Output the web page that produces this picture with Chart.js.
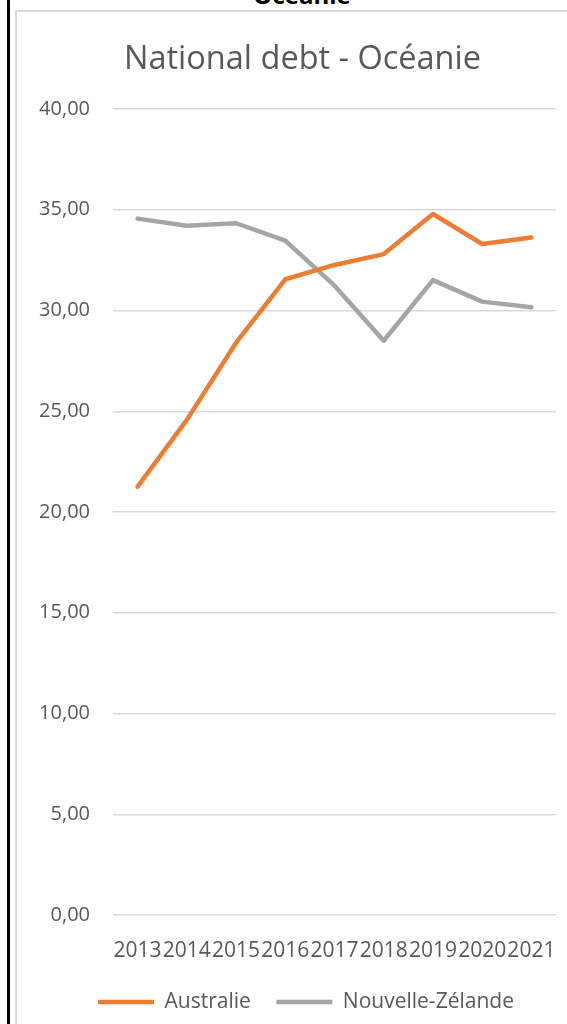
<!DOCTYPE html>
<html>
<head>
<meta charset="utf-8">
<script src="https://cdn.jsdelivr.net/npm/chart.js@4/dist/chart.umd.min.js"></script>
<style>
  html, body { margin: 0; padding: 0; background: #fff; overflow: hidden; }
  body { width: 567px; height: 1024px; position: relative; }
  .rule { position: absolute; left: 7px; top: 0; width: 3px; height: 1024px; background: #000; }
  .frame { position: absolute; left: 15px; top: 10px; width: 600px; height: 1100px;
           border: 2px solid #d9d9d9; box-sizing: border-box; }
  .heading { position: absolute; left: 0; width: 604px; top: -17px; text-align: center;
             font: bold 24px/24px "Open Sans", sans-serif; color: #000; }
  #chart { position: absolute; left: 0; top: 0; }
</style>
</head>
<body>
<div class="rule"></div>
<div class="heading">Océanie</div>
<div class="frame"></div>
<canvas id="chart" width="567" height="1024"></canvas>
<script>
// Years on the category axis
const years = ['2013', '2014', '2015', '2016', '2017', '2018', '2019', '2020', '2021'];

// National debt per country
const australie = [21.26, 24.57, 28.40, 31.55, 32.26, 32.80, 34.79, 33.30, 33.62];
const nouvelleZelande = [34.56, 34.21, 34.33, 33.47, 31.23, 28.50, 31.51, 30.44, 30.16];

const seriesNames = ['Australie', 'Nouvelle-Zélande'];
const chartTitle = 'National debt - Océanie';

const textColor = '#595959';
const gridColor = '#d9d9d9';
const font = '"Open Sans", sans-serif';

const lineStyle = {
  borderWidth: 4.5,
  pointRadius: 0,
  pointHoverRadius: 0,
  tension: 0,
  fill: false,
  borderCapStyle: 'round',
  borderJoinStyle: 'round'
};

// Nudge the title and legend boxes sideways so they sit centred over the frame
const boxOffsets = {
  id: 'boxOffsets',
  afterLayout(chart) {
    const t = chart.titleBlock, l = chart.legend;
    if (t) { t.left += 9.5; t.right += 9.5; }
    if (l) { l.left += 13; l.right += 13; }
  }
};

new Chart(document.getElementById('chart'), {
  type: 'line',
  data: {
    labels: years,
    datasets: [
      Object.assign({ label: seriesNames[0], data: australie,
        borderColor: '#ed7d31', backgroundColor: '#ed7d31' }, lineStyle),
      Object.assign({ label: seriesNames[1], data: nouvelleZelande,
        borderColor: '#a5a5a5', backgroundColor: '#a5a5a5' }, lineStyle)
    ]
  },
  plugins: [boxOffsets],
  options: {
    responsive: false,
    animation: false,
    layout: { padding: { left: 30, right: 11, top: 0, bottom: 1.5 } },
    plugins: {
      title: {
        display: true,
        text: chartTitle,
        color: textColor,
        font: { family: font, size: 32.5, weight: 'normal', lineHeight: 1.2 },
        padding: { top: 40.5, bottom: 29.5 }
      },
      legend: {
        position: 'bottom',
        labels: {
          color: textColor,
          font: { family: font, size: 21 },
          usePointStyle: true,
          pointStyle: 'line',
          pointStyleWidth: 56,
          padding: 25.5
        }
      },
      tooltip: { enabled: false }
    },
    scales: {
      x: {
        offset: true,
        grid: { display: false, drawTicks: false },
        border: { display: false },
        ticks: {
          autoSkip: false,
          maxRotation: 0,
          minRotation: 0,
          padding: 23.5,
          color: textColor,
          font: { family: font, size: 21 }
        },
        afterFit: (scale) => {
          scale.height = 51;
          scale.paddingLeft = 0;
          scale.paddingRight = 0;
        }
      },
      y: {
        min: 0,
        max: 40,
        grid: { color: gridColor, lineWidth: 1.5, drawTicks: false },
        border: { display: false },
        ticks: {
          stepSize: 5,
          padding: 23,
          color: textColor,
          font: { family: font, size: 20 },
          callback: (v) => Number(v).toFixed(2).replace('.', ',')
        },
        afterFit: (scale) => { scale.width = 83; }
      }
    }
  }
});
</script>
</body>
</html>
